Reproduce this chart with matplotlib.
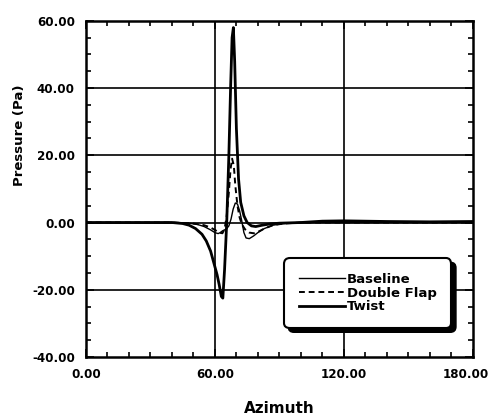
import matplotlib
matplotlib.use("Agg")
import matplotlib.pyplot as plt
import matplotlib.transforms as mtransforms
from matplotlib.ticker import MultipleLocator, FormatStrFormatter

# ---- data ----
twist_az = [0, 10, 20, 30, 40, 45, 48, 51, 54, 56, 58, 59.5, 61, 62, 63, 63.7,
            64.5, 65.5, 66.5, 67.3, 68, 68.6, 69.2, 70, 71, 72, 73.5, 75, 77, 79,
            82, 86, 90, 100, 110, 120, 140, 160, 180]
twist_p = [0, 0, 0, 0, 0, -0.3, -0.8, -1.8, -3.5, -5.5, -8.5, -12, -15.5, -18.5,
           -22, -22.5, -14, 0, 20, 40, 55, 58, 48, 28, 13, 6, 2, 0, -1, -1.2,
           -0.8, -0.4, -0.2, 0, 0.4, 0.5, 0.3, 0.2, 0.3]

base_az = [0, 20, 40, 48, 52, 55, 58, 60, 61.5, 62.5, 63.5, 64.5, 65.5, 66.5,
           67.5, 68.5, 69.5, 70.5, 71.5, 72.5, 73.5, 74.5, 76, 78, 80, 83, 87,
           92, 100, 120, 180]
base_p = [0, 0, 0, -0.2, -0.6, -1.2, -2.2, -3, -3.3, -3, -2.5, -2.2, -1.8, -1,
          1, 4, 5.8, 5.5, 3.5, 0.5, -3, -4.6, -4.8, -4, -3, -1.8, -0.8, -0.3, 0,
          0, 0]

flap_az = [0, 20, 40, 50, 55, 58, 60, 62, 63.5, 64.5, 65.5, 66.5, 67.3, 68,
           68.8, 69.5, 70.5, 71.5, 72.5, 74, 76, 78, 80, 83, 87, 92, 100, 180]
flap_p = [0, 0, 0, -0.3, -0.8, -1.5, -2.2, -3, -3.2, -2, 2, 9, 16, 19, 17, 11,
          5, 1.5, -0.5, -2, -3, -3.2, -2.8, -1.8, -0.8, -0.3, 0, 0]

x_major = [0, 60, 120, 180]
y_major = [-40, -20, 0, 20, 40, 60]

plt.rcParams['font.family'] = ['DejaVu Sans']
plt.rcParams['font.weight'] = 'bold'

fig = plt.figure(figsize=(4.91, 4.17), dpi=100)
ax = fig.add_axes([0.175, 0.144, 0.788, 0.806])

for y in y_major[1:-1]:
    ax.axhline(y, color='black', lw=1.2, zorder=1)
for x in x_major[1:-1]:
    ax.axvline(x, color='black', lw=1.2, zorder=1)

ax.plot(base_az, base_p, color='black', lw=1.0, label='Baseline', zorder=3)
ax.plot(flap_az, flap_p, color='black', lw=1.4, ls=(0, (3, 2)), label='Double Flap', zorder=3)
ax.plot(twist_az, twist_p, color='black', lw=2.0, label='Twist', zorder=3)

ax.set_xlim(0, 180)
ax.set_ylim(-40, 60)
ax.set_xticks(x_major)
ax.set_yticks(y_major)
ax.xaxis.set_minor_locator(MultipleLocator(10))
ax.yaxis.set_minor_locator(MultipleLocator(5))
ax.xaxis.set_major_formatter(FormatStrFormatter('%.2f'))
ax.yaxis.set_major_formatter(FormatStrFormatter('%.2f'))
ax.tick_params(which='both', direction='in', top=True, right=True, width=1.2)
ax.tick_params(which='major', length=6, labelsize=8.6, pad=8)
ax.tick_params(which='minor', length=3.5)
for s in ax.spines.values():
    s.set_linewidth(1.8)

ax.set_xlabel('Azimuth', fontsize=11, fontweight='bold', labelpad=14)
ax.set_ylabel('Pressure (Pa)', fontsize=9.5, fontweight='bold')
ax.yaxis.set_label_coords(-0.155, 0.66)

leg = ax.legend(loc='lower right', bbox_to_anchor=(0.955, 0.075),
                prop={'size': 9.5, 'weight': 'bold'}, handlelength=3.5,
                handletextpad=0.15, labelspacing=0.05, borderpad=0.9,
                fancybox=True, framealpha=1,
                shadow={'color': 'black', 'alpha': 1, 'ox': 3, 'oy': -3})
leg.get_frame().set_edgecolor('black')
leg.get_frame().set_linewidth(1.5)
leg.get_frame().set_boxstyle('round,pad=0.2,rounding_size=0.4')

# shift last x tick label slightly left so it stays inside the figure
last_tick = ax.xaxis.get_major_ticks()[-1]
lbl = last_tick.label1
lbl.set_transform(lbl.get_transform() + mtransforms.ScaledTranslation(-7 / 100, 0, fig.dpi_scale_trans))

fig.savefig('out.png', dpi=100)
